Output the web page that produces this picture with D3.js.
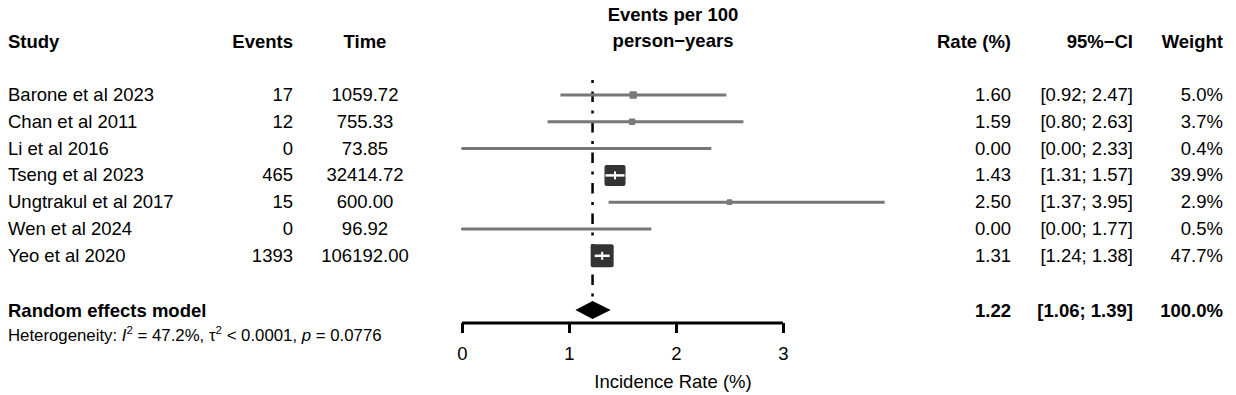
<!DOCTYPE html>
<html>
<head>
<meta charset="utf-8">
<script src="https://cdn.jsdelivr.net/npm/d3@7"></script>
<style>
  body { margin: 0; background: #fff; }
  svg text { font-family: "Liberation Sans", Arial, sans-serif; font-size: 18.5px; fill: #000; }
  .bold { font-weight: bold; }
</style>
</head>
<body>
<script>
const studies = ["Barone et al 2023", "Chan et al 2011", "Li et al 2016", "Tseng et al 2023",
                 "Ungtrakul et al 2017", "Wen et al 2024", "Yeo et al 2020"];
const events = [17, 12, 0, 465, 15, 0, 1393];
const time = ["1059.72", "755.33", "73.85", "32414.72", "600.00", "96.92", "106192.00"];
const rate = [1.60, 1.59, 0.00, 1.43, 2.50, 0.00, 1.31];
const lower = [0.92, 0.80, 0.00, 1.31, 1.37, 0.00, 1.24];
const upper = [2.47, 2.63, 2.33, 1.57, 3.95, 1.77, 1.38];
const weight = [5.0, 3.7, 0.4, 39.9, 2.9, 0.5, 47.7];
const pooled = {est: 1.22, lo: 1.06, hi: 1.39, weight: 100.0};
const ticks = [0, 1, 2, 3];

const W = 1236, H = 395;
const svg = d3.select("body").append("svg").attr("width", W).attr("height", H);

const x = d3.scaleLinear().domain([0, 3]).range([462, 783]);
const y = d3.scaleLinear().domain([0, 1]).range([95, 121.8]);
const box = d3.scaleSqrt().domain([0, d3.max(weight)]).range([0, 23]);
const f2 = d3.format(".2f");

// headers
const head = svg.append("g");
head.append("text").attr("class", "bold").attr("x", 8).attr("y", 48).text("Study");
head.append("text").attr("class", "bold").attr("x", 293).attr("y", 48).attr("text-anchor", "end").text("Events");
head.append("text").attr("class", "bold").attr("x", 365).attr("y", 48).attr("text-anchor", "middle").text("Time");
head.append("text").attr("class", "bold").attr("x", 673).attr("y", 21).attr("text-anchor", "middle").text("Events per 100");
head.append("text").attr("class", "bold").attr("x", 673).attr("y", 47).attr("text-anchor", "middle").text("person\u2212years");
head.append("text").attr("class", "bold").attr("x", 1011).attr("y", 48).attr("text-anchor", "end").text("Rate (%)");
head.append("text").attr("class", "bold").attr("x", 1133).attr("y", 48).attr("text-anchor", "end").text("95%\u2212CI");
head.append("text").attr("class", "bold").attr("x", 1223).attr("y", 48).attr("text-anchor", "end").text("Weight");

// study rows text
const rows = svg.append("g").selectAll("g").data(studies).join("g")
  .attr("transform", (d, i) => "translate(0," + (y(i) + 6) + ")");
rows.append("text").attr("x", 8).text(d => d);
rows.append("text").attr("x", 293).attr("text-anchor", "end").text((d, i) => events[i]);
rows.append("text").attr("x", 365).attr("text-anchor", "middle").text((d, i) => time[i]);
rows.append("text").attr("x", 1011).attr("text-anchor", "end").text((d, i) => f2(rate[i]));
rows.append("text").attr("x", 1133).attr("text-anchor", "end").text((d, i) => "[" + f2(lower[i]) + "; " + f2(upper[i]) + "]");
rows.append("text").attr("x", 1223).attr("text-anchor", "end").text((d, i) => weight[i].toFixed(1) + "%");

// reference line at pooled estimate
svg.append("line")
  .attr("x1", x(pooled.est)).attr("x2", x(pooled.est))
  .attr("y1", 80).attr("y2", 301)
  .attr("stroke", "#000").attr("stroke-width", 2.5)
  .attr("stroke-dasharray", "3,8.5,10.5,8.5");

// rows whose square covers most of the CI get white CI marks instead
const idx = d3.range(studies.length);
const big = idx.filter(i => box(weight[i]) > (x(upper[i]) - x(lower[i])) * 0.5);
const small = idx.filter(i => !big.includes(i));

// CI lines
svg.append("g").selectAll("line").data(small).join("line")
  .attr("x1", i => x(lower[i])).attr("x2", i => x(upper[i]))
  .attr("y1", i => y(i)).attr("y2", i => y(i))
  .attr("stroke", "#777").attr("stroke-width", 3);

// squares
svg.append("g").selectAll("rect").data(idx).join("rect")
  .attr("x", i => x(rate[i]) - box(weight[i]) / 2)
  .attr("y", i => y(i) - box(weight[i]) / 2)
  .attr("width", i => box(weight[i]))
  .attr("height", i => box(weight[i]))
  .attr("rx", i => big.includes(i) ? 2 : 1)
  .attr("fill", i => big.includes(i) ? "#333" : "#7a7a7a");

// white CI inside big squares
svg.append("g").selectAll("line").data(big).join("line")
  .attr("x1", i => Math.max(x(lower[i]), x(rate[i]) - box(weight[i]) / 2 + 1))
  .attr("x2", i => Math.min(x(upper[i]), x(rate[i]) + box(weight[i]) / 2 - 1))
  .attr("y1", i => y(i)).attr("y2", i => y(i))
  .attr("stroke", "#fff").attr("stroke-width", 2.5);
svg.append("g").selectAll("line").data(big).join("line")
  .attr("x1", i => x(rate[i])).attr("x2", i => x(rate[i]))
  .attr("y1", i => y(i) - 4).attr("y2", i => y(i) + 4)
  .attr("stroke", "#fff").attr("stroke-width", 2);

// pooled row
const py = 310;
svg.append("path")
  .attr("d", "M" + x(pooled.lo) + "," + py + "L" + x(pooled.est) + "," + (py - 9) +
             "L" + x(pooled.hi) + "," + py + "L" + x(pooled.est) + "," + (py + 9) + "Z")
  .attr("fill", "#000");
svg.append("text").attr("class", "bold").attr("x", 8).attr("y", 317).text("Random effects model");
svg.append("text").attr("class", "bold").attr("x", 1011).attr("y", 317).attr("text-anchor", "end").text(f2(pooled.est));
svg.append("text").attr("class", "bold").attr("x", 1133).attr("y", 317).attr("text-anchor", "end")
  .text("[" + f2(pooled.lo) + "; " + f2(pooled.hi) + "]");
svg.append("text").attr("class", "bold").attr("x", 1223).attr("y", 317).attr("text-anchor", "end")
  .text(pooled.weight.toFixed(1) + "%");

// heterogeneity
const het = svg.append("text").attr("x", 8).attr("y", 341).style("font-size", "16.8px");
het.append("tspan").text("Heterogeneity: ");
het.append("tspan").style("font-style", "italic").text("I");
het.append("tspan").attr("dy", -7).style("font-size", "11.5px").text("2");
het.append("tspan").attr("dy", 7).text(" = 47.2%, \u03c4");
het.append("tspan").attr("dy", -7).style("font-size", "11.5px").text("2");
het.append("tspan").attr("dy", 7).text(" < 0.0001, ");
het.append("tspan").style("font-style", "italic").text("p");
het.append("tspan").text(" = 0.0776");

// x axis
const axis = svg.append("g").attr("transform", "translate(0,323)")
  .call(d3.axisBottom(x).tickValues(ticks).tickFormat(d3.format("d")).tickSize(10).tickPadding(14));
axis.select(".domain").attr("d", "M" + x(0) + ",0H" + x(3)).attr("stroke", "#000").attr("stroke-width", 3);
axis.selectAll(".tick line").attr("stroke", "#000").attr("stroke-width", 3);
axis.selectAll(".tick text").style("font-size", "18.5px").style("font-family", "Liberation Sans, Arial, sans-serif").attr("fill", "#000");

svg.append("text").attr("x", 673).attr("y", 388).attr("text-anchor", "middle").text("Incidence Rate (%)");
</script>
</body>
</html>
